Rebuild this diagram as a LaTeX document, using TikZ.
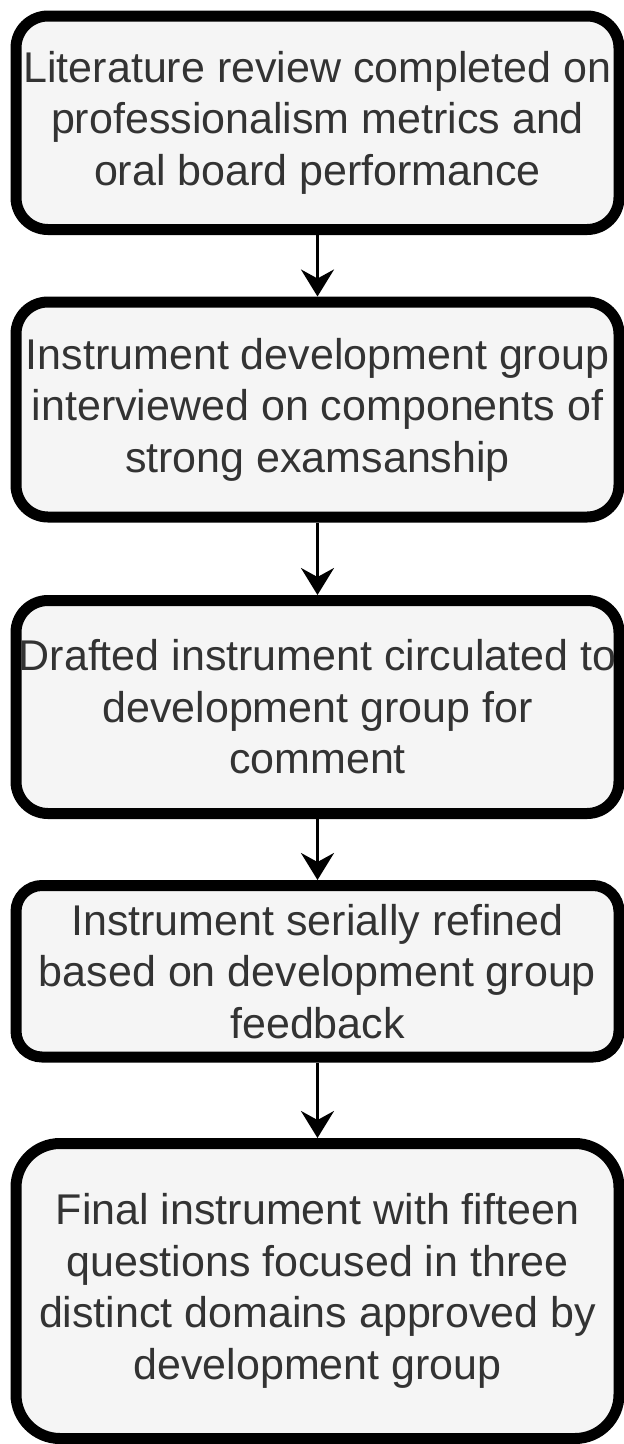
\documentclass[tikz,border=0pt]{standalone}
\usepackage{fontspec}
\setmainfont{Liberation Sans}
\usetikzlibrary{arrows.meta}
\definecolor{ink}{HTML}{000000}
\definecolor{textgray}{HTML}{333333}
\definecolor{cardbg}{HTML}{F5F5F5}
\tikzset{
  stagecard/.style={draw=ink,fill=cardbg,line width=11pt,
                    minimum width=603pt,inner sep=0pt,
                    align=center,text=textgray,
                    font=\fontsize{43}{51.5}\selectfont},
  flowarr/.style={-{Stealth[length=27pt,width=33pt,inset=9pt]},line width=3pt,color=ink}
}
\begin{document}
\begin{tikzpicture}[x=1pt,y=1pt]
  \useasboundingbox (0,0) rectangle (624,-1444);

  % the five stages, top to bottom
  \node[stagecard,minimum height=213.5pt,rounded corners=32pt] (review) at (317.5,-122.75)
    {Literature review completed on\\professionalism metrics and\\oral board performance};
  \node[stagecard,minimum height=215pt,rounded corners=32pt] (interview) at (317.5,-409.5)
    {Instrument development group\\interviewed on components of\\strong examsanship};
  \node[stagecard,minimum height=213pt,rounded corners=32pt] (draft) at (317.5,-707)
    {Drafted instrument circulated to\\development group for\\comment};
  \node[stagecard,minimum height=171.5pt,rounded corners=26pt] (refine) at (317.5,-971.25)
    {Instrument serially refined\\based on development group\\feedback};
  \node[stagecard,minimum height=295pt,rounded corners=44pt] (final) at (317.5,-1291)
    {Final instrument with fifteen\\questions focused in three\\distinct domains approved by\\development group};

  % arrows between stages
  \draw[flowarr] (review) -- (interview);
  \draw[flowarr] (interview) -- (draft);
  \draw[flowarr] (draft) -- (refine);
  \draw[flowarr] (refine) -- (final);
\end{tikzpicture}
\end{document}
